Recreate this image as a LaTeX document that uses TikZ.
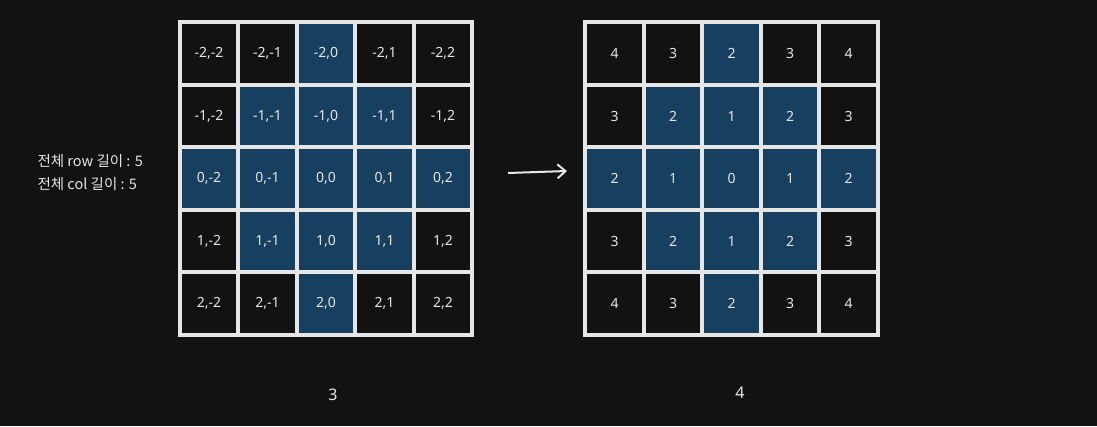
\documentclass[tikz,border=0pt]{standalone}
\usepackage{fontspec}
\setmainfont{Noto Sans}
\newfontfamily\krfont{Noto Sans CJK KR}
\usetikzlibrary{arrows.meta}

\definecolor{bgdark}{HTML}{121212}
\definecolor{cellblue}{HTML}{163F60}
\definecolor{inkwhite}{HTML}{E6E6E6}

\tikzset{
    cell/.style={draw=inkwhite, line width=4pt, minimum width=58.5pt, minimum height=62.5pt,
        inner sep=0pt, text=inkwhite, font=\fontsize{14}{16}\selectfont},
    near/.style={cell, fill=cellblue},
    far/.style={cell, fill=bgdark},
    caption/.style={text=inkwhite, font=\fontsize{16}{18}\selectfont}
}

\begin{document}
\begin{tikzpicture}[x=1pt, y=-1pt]
    %% background
    \fill[bgdark] (0,0) rectangle (1097,426);
    \useasboundingbox (0,0) rectangle (1097,426);
    %% left grid: coordinates
    \foreach \r in {-2,...,2} {
        \foreach \c in {-2,...,2} {
            \pgfmathtruncatemacro\dist{abs(\r)+abs(\c)}
            \pgfmathtruncatemacro\i{\r+3}
            \pgfmathtruncatemacro\j{\c+3}
            \ifnum\dist<3 \def\kind{near}\else\def\kind{far}\fi
            \node[\kind] (left-\i-\j) at (326+58.5*\c, 178.5+62.5*\r) {\r,\c};
        }
    }
    %% right grid: distance from the centre
    \foreach \r in {-2,...,2} {
        \foreach \c in {-2,...,2} {
            \pgfmathtruncatemacro\dist{abs(\r)+abs(\c)}
            \pgfmathtruncatemacro\i{\r+3}
            \pgfmathtruncatemacro\j{\c+3}
            \ifnum\dist<3 \def\kind{near}\else\def\kind{far}\fi
            \node[\kind] (right-\i-\j) at (731.5+58.5*\c, 178.5+62.5*\r) {\dist};
        }
    }
    %% size note
    \node[caption, anchor=north west, align=left, font=\fontsize{14.5}{23}\krfont] (size) at (34,151)
        {전체 row 길이 : 5\\전체 col 길이 : 5};
    %% arrow between the grids
    \coordinate (from) at (508,173);
    \coordinate (to) at (567,171);
    \draw[inkwhite, line width=2pt, -{Straight Barb[length=8pt, width=14pt]}] (from) -- (to);
    %% labels below
    \node[caption] (leftcount) at (333,395) {3};
    \node[caption] (rightcount) at (740,393) {4};
\end{tikzpicture}
\end{document}
